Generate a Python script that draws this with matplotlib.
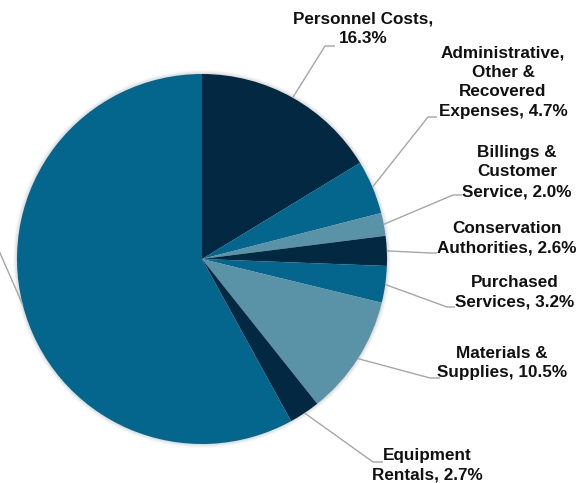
import matplotlib
matplotlib.use("Agg")
import matplotlib.pyplot as plt
import numpy as np
from matplotlib.patches import Circle

# slice data, clockwise from 12 o'clock
labels = ["Personnel Costs,\n16.3%",
          "Administrative,\nOther &\nRecovered\nExpenses, 4.7%",
          "Billings &\nCustomer\nService, 2.0%",
          "Conservation\nAuthorities, 2.6%",
          "Purchased\nServices, 3.2%",
          "Materials &\nSupplies, 10.5%",
          "Equipment\nRentals, 2.7%",
          ""]
shares = [16.3, 4.7, 2.0, 2.6, 3.2, 10.5, 2.7, 58.0]

dark = "#022842"
mid = "#05668D"
light = "#5A92A8"
colors = [dark, mid, light, dark, mid, light, dark, mid]

W, H = 577, 483
fig = plt.figure(figsize=(W / 100, H / 100), dpi=100)
ax = fig.add_axes([0, 0, 1, 1])

cx, cy, r = 202, 259, 185

# faint shadow around the pie
for k, a in [(4, 0.04), (3, 0.06), (2, 0.08), (1, 0.10)]:
    ax.add_patch(Circle((cx, cy), r + k, color="#7f7f7f", alpha=a, lw=0, zorder=0))

# with y inverted, ccw in data = clockwise on screen, -90 = up
ax.pie(shares, colors=colors, startangle=-90, counterclock=True,
       center=(cx, cy), radius=r, wedgeprops=dict(linewidth=0),
       frame=True)
ax.set_xlim(0, W)
ax.set_ylim(H, 0)   # image-like coords, y down
ax.set_aspect("equal")
ax.axis("off")

# label layout: text centre, leader elbow, leader end
text_pos = [(363, 29), (503, 82), (517, 172), (507, 238), (515, 292), (502, 363), (427, 465), None]
elbows = [(325, 46), (428, 117), (453, 195), (430, 253), (447, 307), (430, 378), (373, 462), (0, 253)]
ends = [(335, 46), (437, 117), (462, 195), (437, 253), (455, 307), (440, 378), (383, 462), (-6, 240)]

total = sum(shares)
cum = np.cumsum([0] + shares[:-1])
for i, s in enumerate(shares):
    theta = np.deg2rad(-90 + (cum[i] + s / 2) / total * 360)
    x0, y0 = cx + r * np.cos(theta), cy + r * np.sin(theta)
    ex, ey = elbows[i]
    fx, fy = ends[i]
    ax.plot([x0, ex, fx], [y0, ey, fy], color="#A6A6A6", lw=1.0,
            solid_capstyle="butt", clip_on=False, zorder=1)
    if text_pos[i] is not None:
        tx, ty = text_pos[i]
        ax.text(tx, ty, labels[i], ha="center", va="center", multialignment="center",
                fontsize=12.3, fontweight="bold", family="Liberation Sans",
                color="#111111", linespacing=1.38)

fig.savefig("out.png", dpi=100)
